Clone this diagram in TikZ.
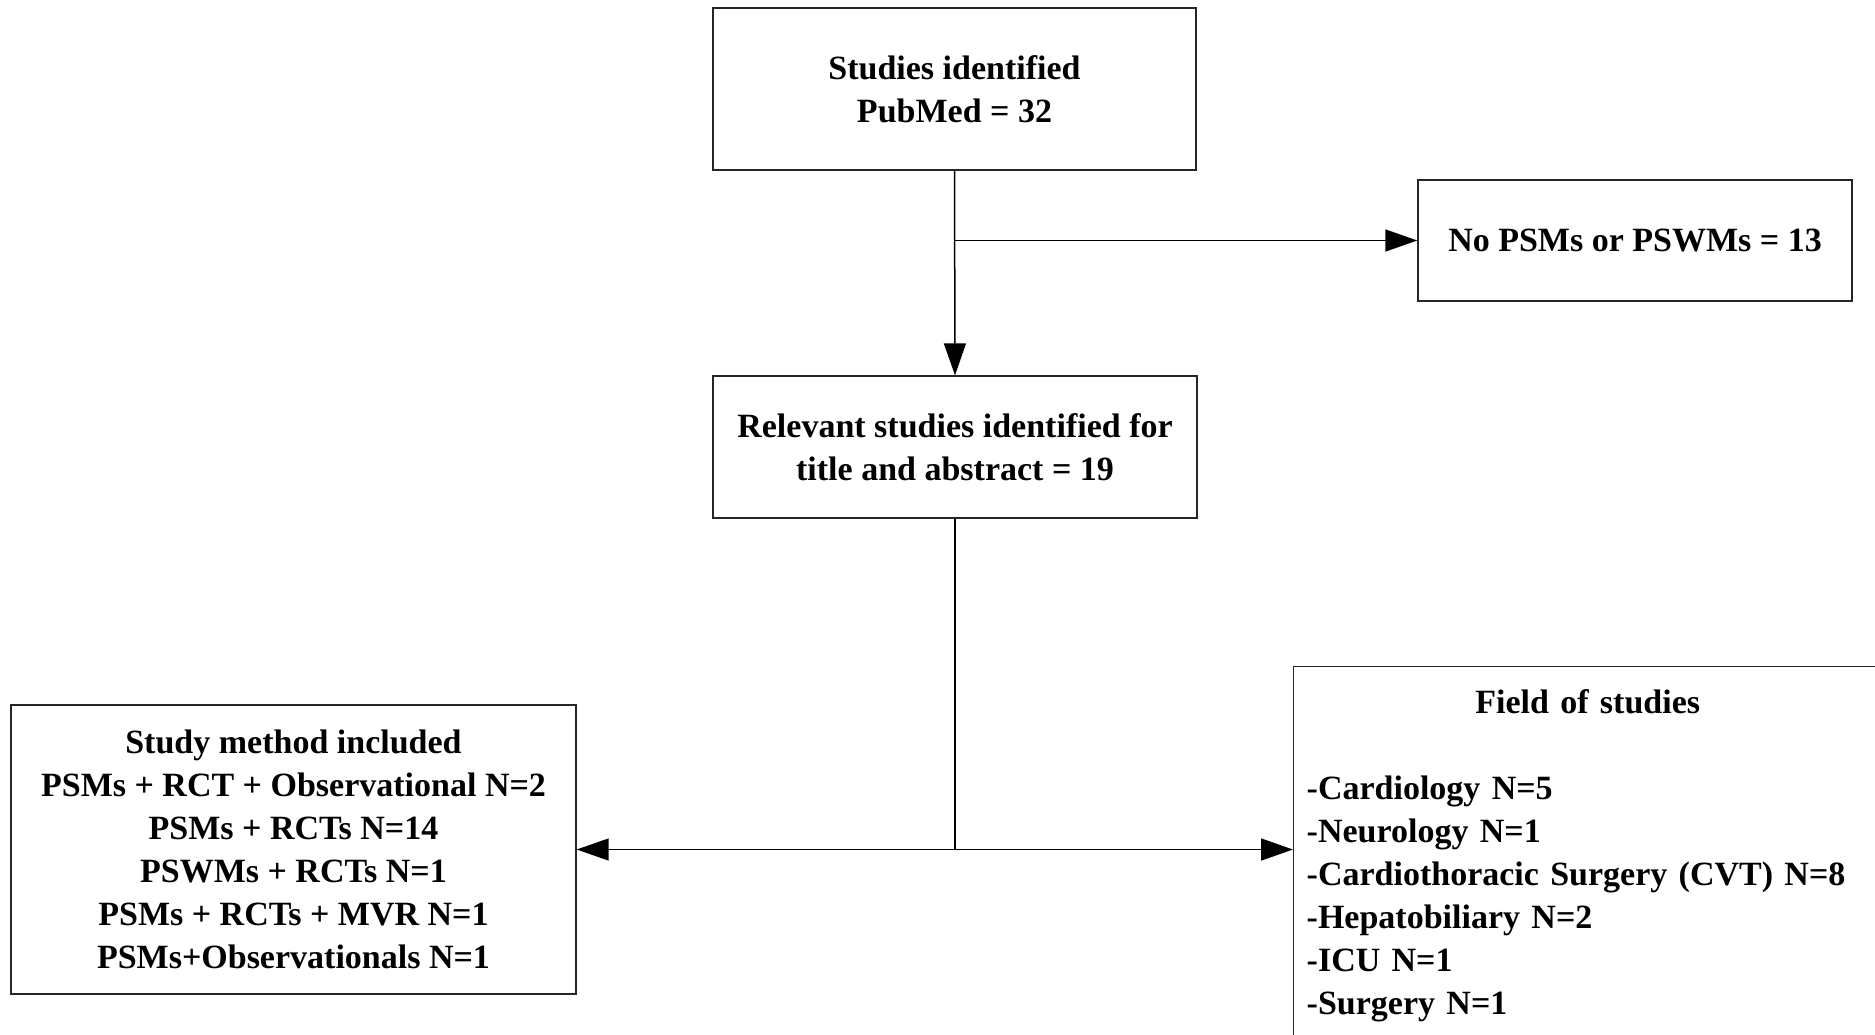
\documentclass[tikz,border=0pt]{standalone}
\usepackage{fontspec}
\setmainfont{Liberation Serif}
\usetikzlibrary{arrows.meta}

\begin{document}
\begin{tikzpicture}[x=0.5pt,y=-0.5pt,
  box/.style={draw=black!85, line width=0.7pt, align=center, inner sep=0pt,
    font=\fontsize{17}{21.5}\selectfont\bfseries},
  link/.style={black, line width=0.75pt},
  tip/.style={-{Triangle[length=16pt,width=11pt]}}]
\useasboundingbox (0,0) rectangle (1875,1034);
\clip (0,0) rectangle (1875,1034);
% search and screening
\node[box, minimum width=241.5pt, minimum height=81pt] (found) at (954.5,89) {Studies identified\\PubMed = 32};
\node[box, minimum width=217pt, minimum height=60.5pt] (excl) at (1635,240.5) {No PSMs or PSWMs = 13};
\node[box, minimum width=242pt, minimum height=71pt] (relev) at (955,447) {Relevant studies identified for\\title and abstract = 19};
% results
\node[box, minimum width=282.5pt, minimum height=144.5pt] (method) at (293.5,849.5) {Study method included\\PSMs + RCT + Observational N=2\\PSMs + RCTs N=14\\PSWMs + RCTs N=1\\PSMs + RCTs + MVR N=1\\PSMs+Observationals N=1};
\node[box, anchor=north west, align=left, inner xsep=6.5pt, text width=281pt, minimum height=189.5pt] (field) at (1293,666) {\makebox[\linewidth]{Field of studies}\\[21.5pt]
-Cardiology N=5\\-Neurology N=1\\-Cardiothoracic Surgery (CVT) N=8\\-Hepatobiliary N=2\\-ICU N=1\\-Surgery N=1};
% connectors
\draw[link, tip] (found.south) -- (relev.north);
\draw[link, tip] (found.south |- excl.west) -- (excl.west);
\coordinate (split) at (relev.south |- method.east);
\draw[link] (relev.south) -- (split);
\draw[link, tip] (split) -- (method.east);
\draw[link, tip] (split) -- (split -| field.west);
\end{tikzpicture}
\end{document}
